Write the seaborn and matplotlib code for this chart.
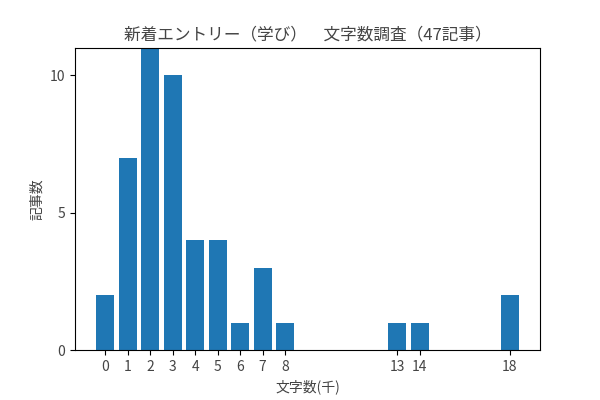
import matplotlib
matplotlib.use("Agg")
import matplotlib.pyplot as plt
import seaborn as sns

# data
chars_k = [0, 1, 2, 3, 4, 5, 6, 7, 8, 13, 14, 18]
counts = [2, 7, 11, 10, 4, 4, 1, 3, 1, 1, 1, 2]
yticks = [0, 5, 10]

# thin grey-looking text like the reference
plt.rcParams['font.family'] = ['Noto Sans CJK JP', 'DejaVu Sans']
plt.rcParams['text.color'] = '#444444'
plt.rcParams['axes.labelcolor'] = '#444444'
plt.rcParams['xtick.labelcolor'] = '#444444'
plt.rcParams['ytick.labelcolor'] = '#444444'

fig, ax = plt.subplots(figsize=(6, 4), dpi=100)

sns.barplot(x=chars_k, y=counts, native_scale=True, color='#1f77b4',
            saturation=1, width=0.8, ax=ax)

ax.set_xticks(chars_k)
ax.set_xticklabels([str(c) for c in chars_k])
ax.set_yticks(yticks)
ax.set_ylim(0, max(counts))

# label the chart
ax.set_title("新着エントリー（学び）　文字数調査（47記事）")
ax.set_xlabel("文字数(千)")
ax.set_ylabel("記事数")

fig.subplots_adjust(left=0.125, right=0.9, top=0.88, bottom=0.125)

fig.savefig("out.png", dpi=100)
